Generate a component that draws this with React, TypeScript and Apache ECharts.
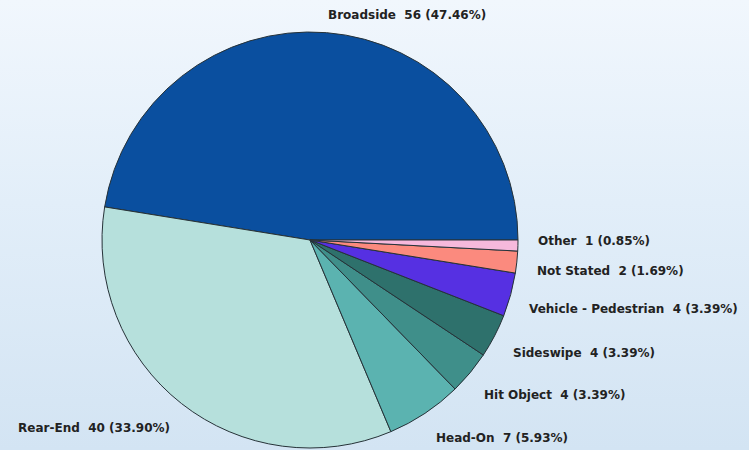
import React, { useEffect, useRef } from "react";
import * as echarts from "echarts";

const categories = [
  "Broadside",
  "Rear-End",
  "Head-On",
  "Hit Object",
  "Sideswipe",
  "Vehicle - Pedestrian",
  "Not Stated",
  "Other",
];
const values = [56, 40, 7, 4, 4, 4, 2, 1];
const colors = [
  "#0a4f9f",
  "#b6e0dc",
  "#5bb3b0",
  "#3f8f8a",
  "#2e716c",
  "#5630e2",
  "#fb8a7e",
  "#f6b9dc",
];

// label anchor layout (pixel positions of the label text, left/right aligned)
const labelLayoutPos: { x: number; y: number; align: "left" | "right" }[] = [
  { x: 328, y: 15, align: "left" },
  { x: 170, y: 428, align: "right" },
  { x: 436, y: 438, align: "left" },
  { x: 484, y: 395, align: "left" },
  { x: 513, y: 353, align: "left" },
  { x: 529, y: 309, align: "left" },
  { x: 537, y: 271, align: "left" },
  { x: 538, y: 241, align: "left" },
];

export default function App() {
  const ref = useRef<HTMLDivElement>(null);
  useEffect(() => {
    if (!ref.current) return;
    const chart = echarts.init(ref.current, undefined, { renderer: "svg" });
    const total = values.reduce((a, b) => a + b, 0);
    chart.setOption({
      animation: false,
      backgroundColor: "transparent",
      series: [
        {
          type: "pie",
          center: [310, 240],
          radius: 208,
          startAngle: 0,
          clockwise: false,
          avoidLabelOverlap: false,
          itemStyle: { borderColor: "#263238", borderWidth: 1 },
          emphasis: { disabled: true },
          label: {
            show: true,
            position: "outside",
            color: "#222222",
            fontFamily: "DejaVu Sans, Verdana, sans-serif",
            fontWeight: "bold",
            fontSize: 12,
            formatter: (p: any) =>
              `${p.name}  ${p.value} (${((p.value / total) * 100).toFixed(2)}%)`,
          },
          labelLine: { show: false },
          labelLayout: (params: any) => {
            const pos = labelLayoutPos[params.dataIndex];
            return { x: pos.x, y: pos.y, align: pos.align, verticalAlign: "middle" };
          },
          data: categories.map((c, i) => ({
            name: c,
            value: values[i],
            itemStyle: { color: colors[i] },
          })),
        },
      ],
    });
    return () => chart.dispose();
  }, []);
  return (
    <div
      ref={ref}
      style={{
        position: "fixed",
        left: 0,
        top: 0,
        width: 749,
        height: 450,
        background: "linear-gradient(180deg, #f1f7fd 0%, #e2eef9 45%, #d3e4f3 100%)",
      }}
    />
  );
}
